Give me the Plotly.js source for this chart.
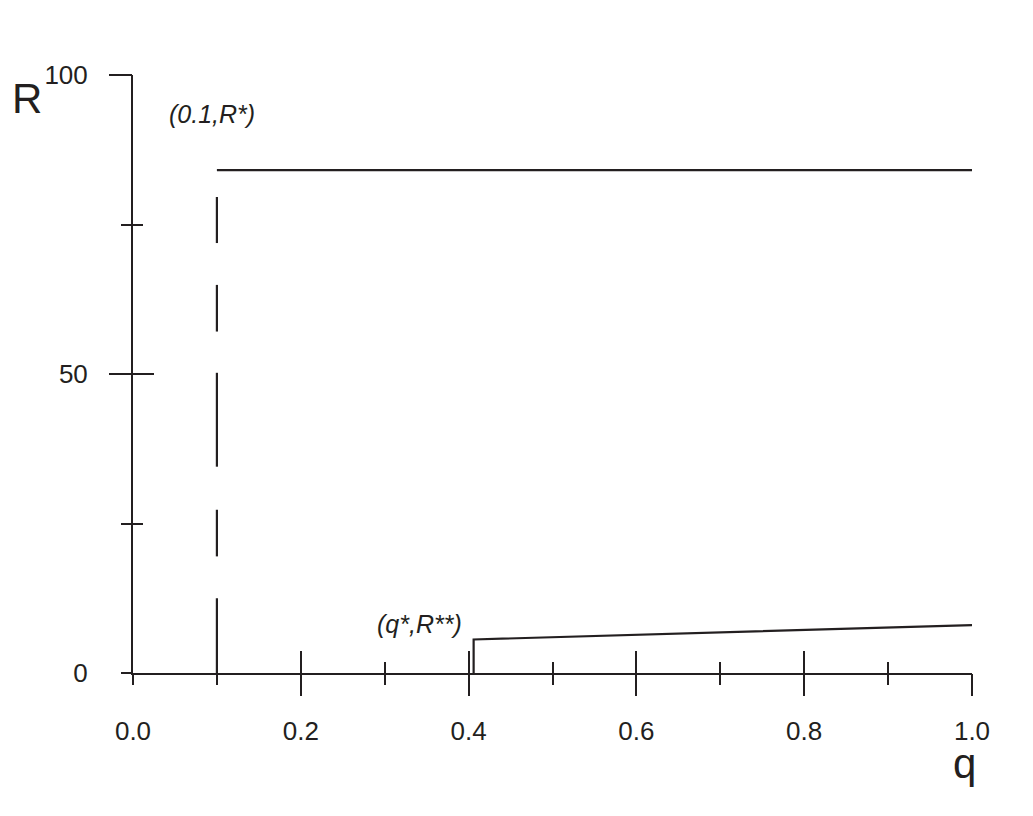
<!DOCTYPE html>
<html>
<head>
<meta charset="utf-8">
<script src="https://cdn.plot.ly/plotly-3.0.1.min.js"></script>
<style>html,body{margin:0;padding:0;background:#fff;}#chart{width:1033px;height:816px;}</style>
</head>
<body>
<div id="chart"></div>
<script>
// ---- data ----
const xTickVals = [0.0, 0.2, 0.4, 0.6, 0.8, 1.0];
const xTickText = ["0.0", "0.2", "0.4", "0.6", "0.8", "1.0"];
const yTickVals = [0, 50, 100];
const yTickText = ["0", "50", "100"];
const xMinorVals = [0.1, 0.3, 0.5, 0.7, 0.9];
const yMinorVals = [25, 75];

// upper curve: horizontal at R* from q = 0.1
const upperQ = [0.1, 1.0];
const upperR = [84.1, 84.1];

// dashed vertical at q = 0.1 (segment tops and bottoms)
const dashQ = 0.1;
const dashTop = [79.6, 64.9, 50.2, 27.3, 12.5];
const dashBottom = [71.9, 57.1, 34.5, 19.5, 0];

// lower curve: jump at q* then slowly rising
const lowerQ = [0.406, 0.406, 1.0];
const lowerR = [0, 5.6, 8.0];

const labelUpper = "(0.1,R*)";
const labelLower = "(q*,R**)";

// ---- build ----
const ink = "#231f20";
const dq = [], dr = [];
dashTop.forEach((t, i) => { dq.push(dashQ, dashQ, null); dr.push(t, dashBottom[i], null); });

const traces = [
  {x: upperQ, y: upperR, mode: "lines", line: {color: ink, width: 2.2}, hoverinfo: "skip"},
  {x: dq, y: dr, mode: "lines", line: {color: ink, width: 2.2}, connectgaps: false, hoverinfo: "skip"},
  {x: lowerQ, y: lowerR, mode: "lines", line: {color: ink, width: 2.2}, hoverinfo: "skip"},
  {x: [], y: [], xaxis: "x2", yaxis: "y2", mode: "lines", hoverinfo: "skip"},
  {x: [], y: [], xaxis: "x3", yaxis: "y3", mode: "lines", hoverinfo: "skip"}
];

const tickFont = {family: "Liberation Sans, Arial, sans-serif", size: 26, color: ink};
const xr = [0, 1], yr = [0, 100];
const majorX = xTickVals.slice(1), majorY = yTickVals.slice(1);

const layout = {
  width: 1033, height: 816,
  margin: {l: 133, r: 61, t: 75, b: 143},
  paper_bgcolor: "#fff", plot_bgcolor: "#fff",
  showlegend: false,
  xaxis: {range: xr, showline: true, linecolor: ink, linewidth: 2, showgrid: false, zeroline: false,
          tickmode: "array", tickvals: xTickVals, ticktext: xTickText, ticks: "",
          tickfont: tickFont, ticklabelstandoff: 34},
  yaxis: {range: yr, showline: true, linecolor: ink, linewidth: 2, showgrid: false, zeroline: false,
          tickmode: "array", tickvals: yTickVals, ticktext: yTickText, ticks: "",
          tickfont: tickFont, ticklabelstandoff: 38},
  xaxis2: {range: xr, overlaying: "x", anchor: "y2", showline: false, showgrid: false, zeroline: false,
           tickmode: "array", tickvals: majorX, ticks: "outside", ticklen: 22, tickwidth: 2, tickcolor: ink,
           showticklabels: false,
           minor: {tickmode: "array", tickvals: [0].concat(xMinorVals), ticks: "outside", ticklen: 11, tickwidth: 2, tickcolor: ink}},
  yaxis2: {range: yr, overlaying: "y", anchor: "x2", showline: false, showgrid: false, zeroline: false,
           tickmode: "array", tickvals: majorY, ticks: "outside", ticklen: 23, tickwidth: 2, tickcolor: ink,
           showticklabels: false,
           minor: {tickmode: "array", tickvals: [0].concat(yMinorVals), ticks: "outside", ticklen: 11, tickwidth: 2, tickcolor: ink}},
  xaxis3: {range: xr, overlaying: "x", anchor: "y3", showline: false, showgrid: false, zeroline: false,
           tickmode: "array", tickvals: majorX, ticks: "inside", ticklen: 22, tickwidth: 2, tickcolor: ink,
           showticklabels: false,
           minor: {tickmode: "array", tickvals: xMinorVals, ticks: "inside", ticklen: 11, tickwidth: 2, tickcolor: ink}},
  yaxis3: {range: yr, overlaying: "y", anchor: "x3", showline: false, showgrid: false, zeroline: false,
           tickmode: "array", tickvals: majorY, ticks: "inside", ticklen: 21, tickwidth: 2, tickcolor: ink,
           showticklabels: false,
           minor: {tickmode: "array", tickvals: yMinorVals, ticks: "inside", ticklen: 10, tickwidth: 2, tickcolor: ink}},
  annotations: [
    {text: labelUpper, x: 0.094, y: 93.5, xref: "x", yref: "y", showarrow: false,
     xanchor: "center", yanchor: "middle",
     font: {family: "Liberation Sans, Arial, sans-serif", size: 25, color: ink, style: "italic"}},
    {text: labelLower, x: 0.342, y: 8.2, xref: "x", yref: "y", showarrow: false,
     xanchor: "center", yanchor: "middle",
     font: {family: "Liberation Sans, Arial, sans-serif", size: 25, color: ink, style: "italic"}},
    {text: "R", x: -0.126, y: 0.96, xref: "paper", yref: "paper", showarrow: false,
     xanchor: "center", yanchor: "middle",
     font: {family: "Liberation Sans, Arial, sans-serif", size: 42, color: ink}},
    {text: "q", x: 0.991, y: -0.151, xref: "paper", yref: "paper", showarrow: false,
     xanchor: "center", yanchor: "middle",
     font: {family: "Liberation Sans, Arial, sans-serif", size: 42, color: ink}}
  ]
};

Plotly.newPlot("chart", traces, layout, {staticPlot: true, displayModeBar: false});
</script>
</body>
</html>
